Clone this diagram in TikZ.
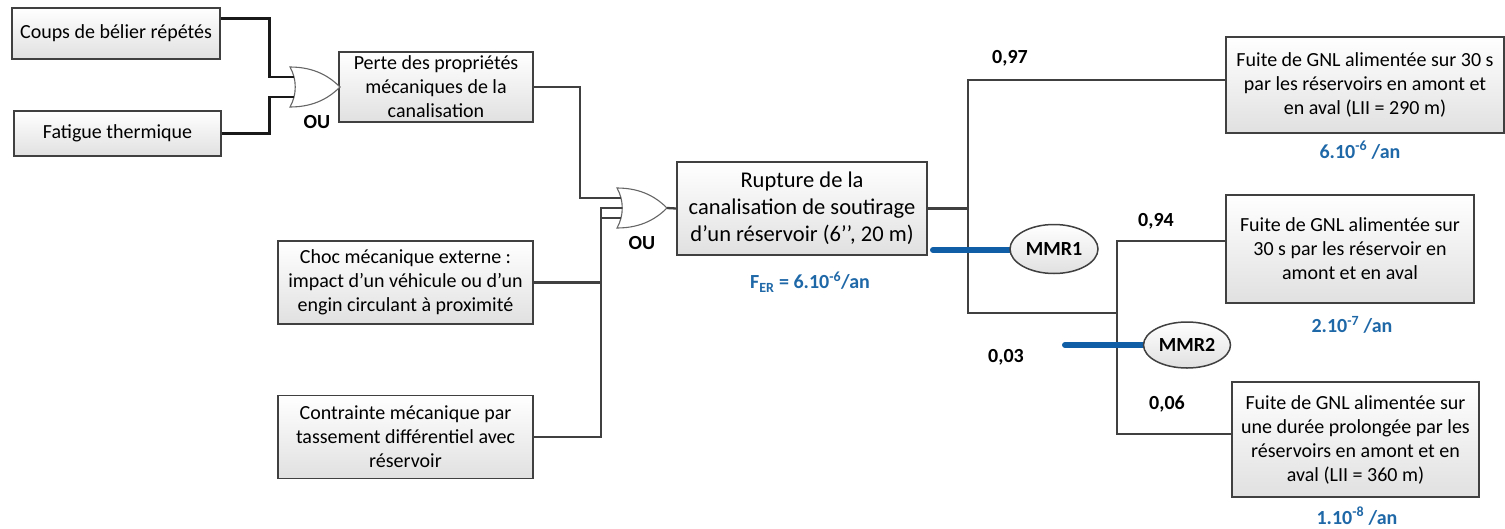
\documentclass[tikz,border=0pt]{standalone}
\usepackage{fontspec}
\setmainfont{Carlito}
\usetikzlibrary{shapes.geometric}

\definecolor{edge}{HTML}{404040}
\definecolor{mmrblue}{RGB}{16,94,166}
\definecolor{valblue}{RGB}{31,104,168}

\tikzset{
  evt/.style={draw=edge, line width=1.5pt, top color=white, bottom color=black!12,
              align=center, inner sep=2pt, font=\fontsize{20}{24}\selectfont},
  bigevt/.style={evt, font=\fontsize{22.5}{27}\selectfont},
  conn/.style={draw=edge, line width=2.3pt},
  darkconn/.style={draw=black!90, line width=2.7pt},
  gateshape/.style={draw=black!60, line width=1.1pt, fill=white},
  barrier/.style={ellipse, draw=edge, line width=1.5pt, top color=white, bottom color=black!12,
                  inner sep=0pt, font=\bfseries\fontsize{20}{24}\selectfont},
  mmrlink/.style={draw=mmrblue, line width=6pt, line cap=round},
  prob/.style={font=\bfseries\fontsize{20}{24}\selectfont},
  freq/.style={font=\bfseries\fontsize{20}{24}\selectfont, text=valblue},
  orlabel/.style={font=\bfseries\fontsize{20}{24}\selectfont},
  orgate/.pic={
    \path[gateshape] (0,-20) .. controls (25,-20) and (40,-10) .. (50,0)
          .. controls (40,10) and (25,20) .. (0,20)
          .. controls (7,8) and (7,-8) .. (0,-20) -- cycle;
  }
}

\begin{document}
\begin{tikzpicture}[x=1pt,y=-1pt]
\useasboundingbox (0,0) rectangle (1505,528);

% ---- basic events ----
\node[evt, minimum width=208pt, minimum height=51pt] (coups) at (116,33.5) {Coups de bélier répétés};
\node[evt, minimum width=207pt, minimum height=45pt] (fatigue) at (117.5,133.5) {Fatigue thermique};
\node[evt, minimum width=194pt, minimum height=70pt] (perte) at (436,87)
  {Perte des propriétés\\mécaniques de la\\canalisation};
\node[evt, minimum width=255pt, minimum height=83pt] (choc) at (405.5,282.5)
  {Choc mécanique externe :\\impact d’un véhicule ou d’un\\engin circulant à proximité};
\node[evt, minimum width=255pt, minimum height=83pt] (contrainte) at (405.5,437)
  {Contrainte mécanique par\\tassement différentiel avec\\réservoir};

% ---- top event ----
\node[bigevt, minimum width=250pt, minimum height=93pt] (rupture) at (802,208.5)
  {Rupture de la\\canalisation de soutirage\\d’un réservoir (6’’, 20 m)};

% ---- consequences ----
\node[evt, minimum width=278pt, minimum height=96pt] (fuiteA) at (1365,85)
  {Fuite de GNL alimentée sur 30 s\\par les réservoirs en amont et\\en aval (LII = 290 m)};
\node[evt, minimum width=248pt, minimum height=108pt] (fuiteB) at (1350,249)
  {Fuite de GNL alimentée sur\\30 s par les réservoir en\\amont et en aval};
\node[evt, minimum width=247pt, minimum height=115pt] (fuiteC) at (1355.5,439.5)
  {Fuite de GNL alimentée sur\\une durée prolongée par les\\réservoirs en amont et en\\aval (LII = 360 m)};

% ---- OR gates ----
\pic at (290,87) {orgate};
\pic at (617,208) {orgate};
\node[orlabel] (ou1) at (317,122) {OU};
\node[orlabel] (ou2) at (642,243) {OU};

\coordinate (g1a) at (294,77);
\coordinate (g1b) at (294,97);
\coordinate (g1out) at (340,87);
\coordinate (g2a) at (621,198);
\coordinate (g2b) at (622,208);
\coordinate (g2c) at (621,218);
\coordinate (g2out) at (667,208);
\coordinate (bus) at (601,208);

% ---- fault tree connectors ----
\draw[darkconn] ([yshift=-11pt]coups.north east) -- ++(49,0) |- (g1a);
\draw[darkconn] (fatigue.east) -- ++(48,0) |- (g1b);
\draw[conn] (perte.east) -- ++(46,0) |- (g2a);
\draw[conn] (contrainte.east) -| (bus) -- (g2b);
\draw[conn] (choc.east) -- (choc.east -| bus);
\draw[conn] (bus |- g2c) -- (g2c);
\draw[conn] (g2out) -- (rupture.west);

% ---- event tree branches ----
\coordinate (br1) at (968,80);
\coordinate (br2) at (1117,313);
\coordinate (br3) at (1117,241);
\coordinate (br4) at (1117,434);
\draw[conn] (rupture.east) -- (rupture.east -| br1);
\draw[conn] (fuiteA.west |- br1) -- (br1) -- (br1 |- br2) -- (br2);
\draw[conn] (fuiteB.west |- br3) -- (br3) -- (br4) -- (br4 -| fuiteC.west);

% ---- safety barriers ----
\coordinate (m1start) at (933,250);
\coordinate (m2start) at (1065,345);
\draw[mmrlink] (m1start) -- (1012,250);
\draw[mmrlink] (m2start) -- (1145,345);
\node[barrier, minimum width=88pt, minimum height=49pt] (mmr1) at (1054,249) {MMR1};
\node[barrier, minimum width=87pt, minimum height=46pt] (mmr2) at (1187,345) {MMR2};

% ---- probabilities ----
\node[prob] (p97) at (1010,58) {0,97};
\node[prob] (p94) at (1156,221) {0,94};
\node[prob] (p03) at (1006,357) {0,03};
\node[prob] (p06) at (1167,404) {0,06};

% ---- frequencies ----
\node[freq] (fer) at (810,282) {F\textsubscript{ER} = 6.10\textsuperscript{-6}/an};
\node[freq] (fa) at (1360,150) {6.10\textsuperscript{-6} /an};
\node[freq] (fb) at (1352,325) {2.10\textsuperscript{-7} /an};
\node[freq] (fc) at (1357,516) {1.10\textsuperscript{-8} /an};
\end{tikzpicture}
\end{document}
